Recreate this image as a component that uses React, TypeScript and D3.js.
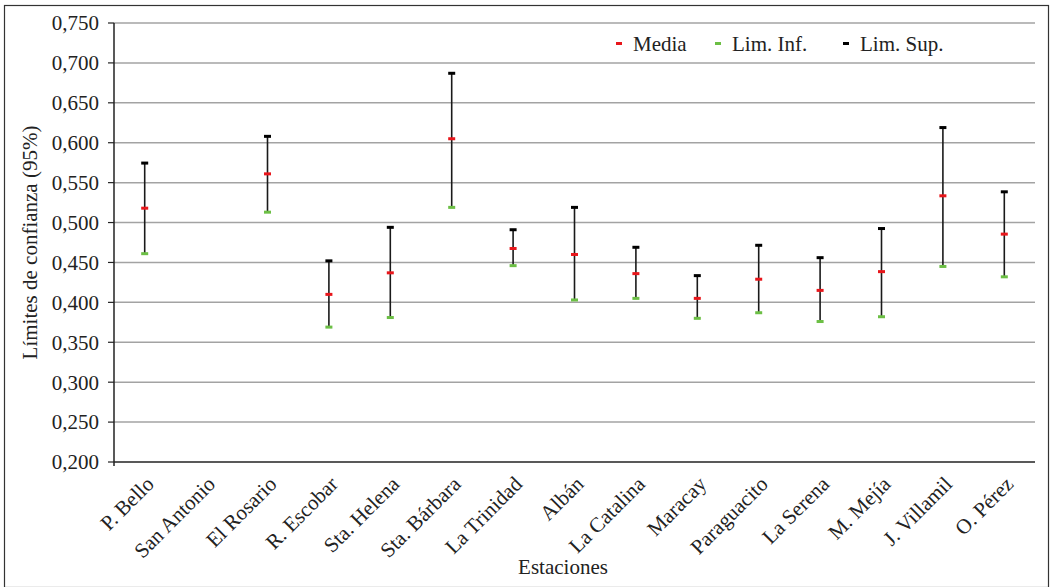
import React from "react";
import * as d3 from "d3";

const stations = ["P. Bello", "San Antonio", "El Rosario", "R. Escobar", "Sta. Helena", "Sta. Bárbara", "La Trinidad", "Albán", "La Catalina", "Maracay", "Paraguacito", "La Serena", "M. Mejía", "J. Villamil", "O. Pérez"];
const media: (number | null)[] = [0.518, null, 0.561, 0.41, 0.437, 0.605, 0.4675, 0.46, 0.436, 0.405, 0.429, 0.415, 0.4385, 0.5335, 0.4855];
const limInf: (number | null)[] = [0.461, null, 0.513, 0.369, 0.381, 0.519, 0.446, 0.403, 0.405, 0.38, 0.387, 0.376, 0.382, 0.445, 0.432];
const limSup: (number | null)[] = [0.5745, null, 0.608, 0.452, 0.494, 0.687, 0.491, 0.519, 0.469, 0.4335, 0.4715, 0.456, 0.4925, 0.619, 0.5385];
const yTicks = [0.2, 0.25, 0.3, 0.35, 0.4, 0.45, 0.5, 0.55, 0.6, 0.65, 0.7, 0.75];

const W = 1051, H = 587;
const left = 114, right = 1035, top = 23, bottom = 462;
const FONT = "Liberation Serif, Times New Roman, Times, serif";
const ts = { fontFamily: FONT };
const FS = 21;

export default function App() {
  const x = d3.scaleBand<string>().domain(stations).range([left, right]);
  const y = d3.scaleLinear().domain([0.2, 0.75]).range([bottom, top]);
  const fmt = (v: number) => d3.format(".3f")(v).replace(".", ",");
  const cx = (s: string) => (x(s) as number) + x.bandwidth() / 2;
  const capW = 7, capH = 3;
  const legend = [
    { label: "Media", color: "#e8161b", x: 616 },
    { label: "Lim. Inf.", color: "#6cbf45", x: 715 },
    { label: "Lim. Sup.", color: "#000000", x: 843 },
  ];
  return (
    <svg width={W} height={H} style={{ position: "absolute", left: 0, top: 0, fontFamily: FONT }}>
      <rect x={0} y={0} width={W} height={H} fill="#fff" />
      <rect x={4.5} y={5.5} width={1044} height={582} fill="none" stroke="#333" strokeWidth={1.2} />
      {yTicks.map((t) => (
        <g key={t}>
          {t > 0.2 && <line x1={left} x2={right} y1={y(t)} y2={y(t)} stroke="#a3a3a3" strokeWidth={1.5} />}
          <line x1={left - 6} x2={left} y1={y(t)} y2={y(t)} stroke="#222" strokeWidth={1.2} />
          <text style={ts} x={99} y={y(t)} dy="0.35em" textAnchor="end" fontSize={FS} fill="#222">{fmt(t)}</text>
        </g>
      ))}
      <line x1={left} x2={right} y1={bottom} y2={bottom} stroke="#222" strokeWidth={1.5} />
      <line x1={left} x2={left} y1={top} y2={bottom + 4} stroke="#222" strokeWidth={1.5} />
      {stations.map((s, i) => {
        const m = media[i], lo = limInf[i], hi = limSup[i];
        const c = cx(s);
        return (
          <g key={s}>
            {lo != null && hi != null && (
              <line x1={c} x2={c} y1={y(lo)} y2={y(hi)} stroke="#1a1a1a" strokeWidth={1.6} />
            )}
            {hi != null && <rect x={c - capW / 2} y={y(hi) - capH / 2} width={capW} height={capH} fill="#000" />}
            {lo != null && <rect x={c - capW / 2} y={y(lo) - capH / 2} width={capW} height={capH} fill="#6cbf45" />}
            {m != null && <rect x={c - capW / 2} y={y(m) - capH / 2} width={capW} height={capH} fill="#e8161b" />}
            <text style={ts} transform={`translate(${c},${bottom + 13}) rotate(-45)`} textAnchor="end" dy="0.7em" fontSize={FS} fill="#222">{s}</text>
          </g>
        );
      })}
      {legend.map((l) => (
        <g key={l.label}>
          <rect x={l.x} y={42} width={6} height={3} fill={l.color} />
          <text style={ts} x={l.x + 17} y={43.5} dy="0.35em" fontSize={FS} fill="#222">{l.label}</text>
        </g>
      ))}
      <text style={ts} x={563} y={574} textAnchor="middle" fontSize={FS} fill="#222">Estaciones</text>
      <text style={ts} transform={`translate(37,${(top + bottom) / 2}) rotate(-90)`} textAnchor="middle" fontSize={FS} fill="#222">Límites de confianza (95%)</text>
    </svg>
  );
}
